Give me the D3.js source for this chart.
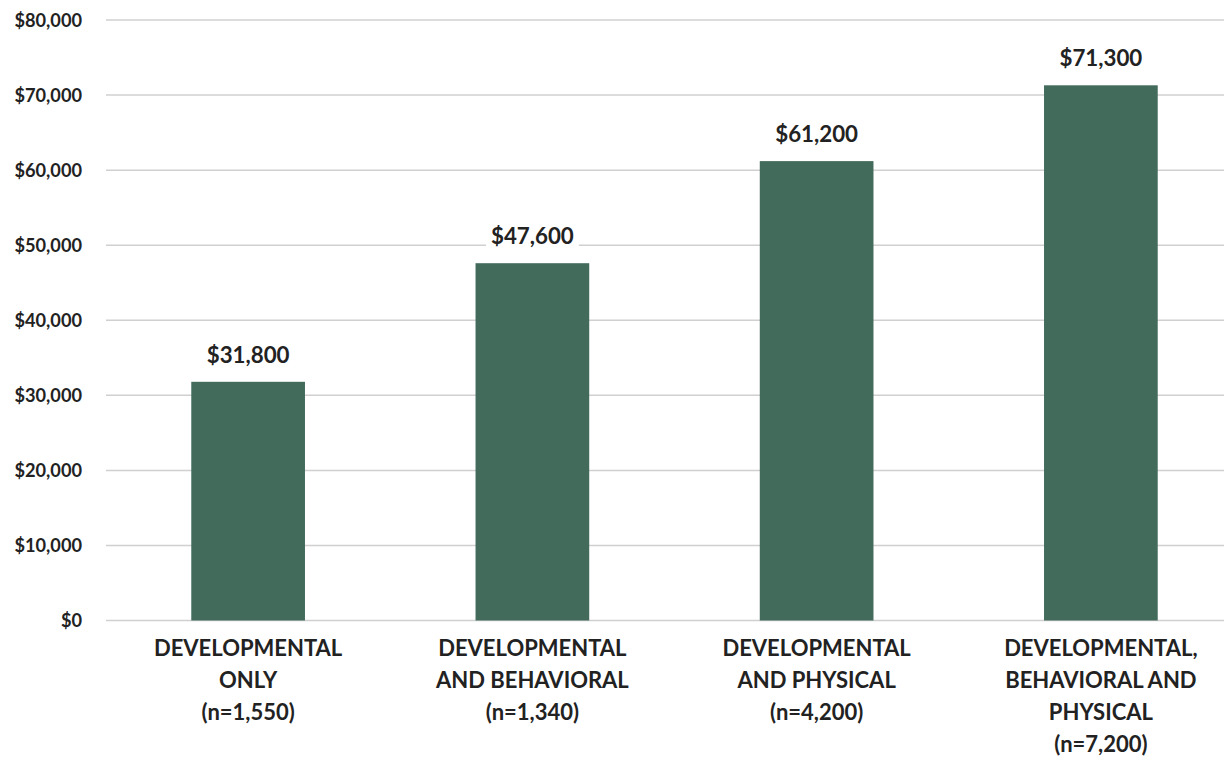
<!DOCTYPE html>
<html><head><meta charset="utf-8">
<script src="https://cdn.jsdelivr.net/npm/d3@7"></script>
<style>body{margin:0;background:#fff;} text{font-family:Lato,"Open Sans",sans-serif;font-weight:bold;fill:#222;}</style>
</head><body>
<svg id="c" width="1224" height="757"></svg>
<script>
const categories = [
  ["DEVELOPMENTAL", "ONLY", "(n=1,550)"],
  ["DEVELOPMENTAL", "AND BEHAVIORAL", "(n=1,340)"],
  ["DEVELOPMENTAL", "AND PHYSICAL", "(n=4,200)"],
  ["DEVELOPMENTAL,", "BEHAVIORAL AND", "PHYSICAL", "(n=7,200)"]
];
const values = [31800, 47600, 61200, 71300];
const yTicks = [0, 10000, 20000, 30000, 40000, 50000, 60000, 70000, 80000];

const svg = d3.select("#c");
const keys = categories.map((c, i) => i);
const x = d3.scaleBand().domain(keys).range([106, 1243]).paddingInner(0.6).paddingOuter(0.3);
const y = d3.scaleLinear().domain([0, 80000]).range([620.5, 20]);
const fmt = d3.format("$,");

// gridlines
svg.append("g").selectAll("line").data(yTicks).join("line")
  .attr("x1", 106).attr("x2", 1224)
  .attr("y1", d => y(d)).attr("y2", d => y(d))
  .attr("stroke", "#d0d0d0").attr("stroke-width", 1.5);

// y axis labels
const yAxis = d3.axisLeft(y).tickValues(yTicks).tickFormat(fmt).tickSize(0).tickPadding(0);
const ga = svg.append("g").attr("transform", "translate(82,0)").call(yAxis);
ga.select(".domain").remove();
ga.selectAll("text").attr("font-size", 18.2).attr("dy", "0.35em").style("fill", "#222")
  .attr("font-family", "Lato,'Open Sans',sans-serif").attr("font-weight", "bold");

// bars
svg.append("g").selectAll("rect").data(values).join("rect")
  .attr("x", (d, i) => x(i)).attr("width", x.bandwidth())
  .attr("y", d => y(d)).attr("height", d => y(0) - y(d))
  .attr("fill", "#436b5c");

// value labels with white backgrounds
const lg = svg.append("g");
values.forEach((v, i) => {
  const g = lg.append("g");
  const t = g.append("text")
    .attr("x", x(i) + x.bandwidth() / 2).attr("y", y(v) - 19)
    .attr("text-anchor", "middle").attr("font-size", 22.3).text(fmt(v));
  const b = t.node().getBBox();
  g.insert("rect", "text").attr("x", b.x - 5).attr("y", b.y - 2)
    .attr("width", b.width + 10).attr("height", b.height + 4).attr("fill", "#fff");
});

// category labels
const cg = svg.append("g");
categories.forEach((lines, i) => {
  const t = cg.append("text").attr("text-anchor", "middle").attr("font-size", 22);
  lines.forEach((l, j) => {
    t.append("tspan").attr("x", x(i) + x.bandwidth() / 2).attr("y", 656 + j * 32).text(l);
  });
});
</script>
</body></html>
